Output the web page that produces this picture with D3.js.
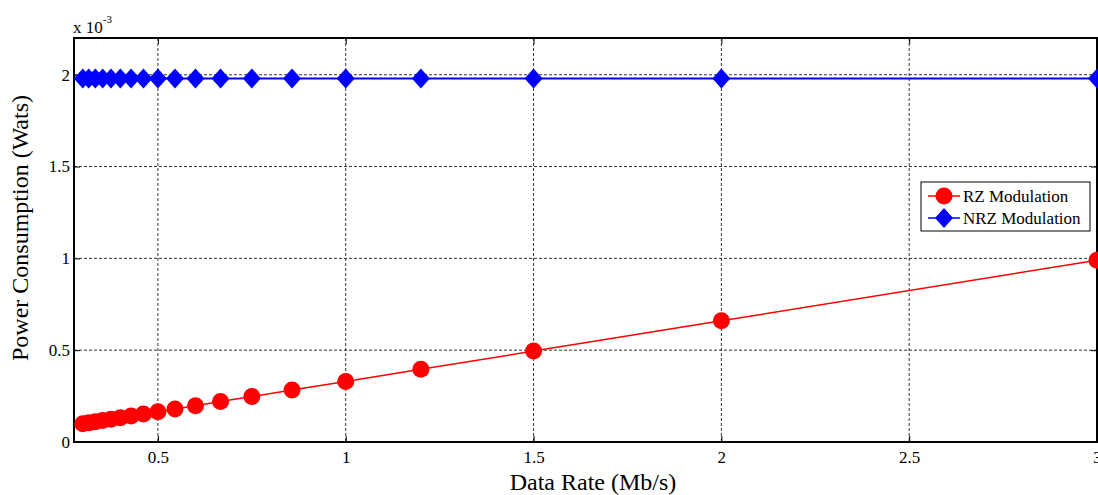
<!DOCTYPE html>
<html>
<head>
<meta charset="utf-8">
<script src="https://cdn.jsdelivr.net/npm/d3@7"></script>
<style>
  html, body { margin: 0; padding: 0; background: #fff; }
  svg { display: block; font-family: "Liberation Serif", "Times New Roman", serif; }
</style>
</head>
<body>
<svg id="chart" width="1098" height="495"></svg>
<script>
// Data rate (Mb/s) for each simulated bit period
const dataRate = [0.3, 0.3158, 0.3333, 0.3529, 0.375, 0.4, 0.4286, 0.4615, 0.5, 0.5455,
                  0.6, 0.6667, 0.75, 0.8571, 1, 1.2, 1.5, 2, 3];
// Power consumption in units of 1e-3 W
const rzPower  = [0.099, 0.1042, 0.11, 0.1165, 0.1238, 0.132, 0.1414, 0.1523, 0.165, 0.18,
                  0.198, 0.22, 0.2475, 0.2829, 0.33, 0.396, 0.495, 0.66, 0.99];
const nrzPower = [1.98, 1.98, 1.98, 1.98, 1.98, 1.98, 1.98, 1.98, 1.98, 1.98,
                  1.98, 1.98, 1.98, 1.98, 1.98, 1.98, 1.98, 1.98, 1.98];
const xTicks = [0.5, 1, 1.5, 2, 2.5, 3];
const yTicks = [0, 0.5, 1, 1.5, 2];
const seriesNames = ["RZ Modulation", "NRZ Modulation"];

const svg = d3.select("#chart");
const plotL = 74, plotR = 1097, plotT = 38, plotB = 442;

const x = d3.scaleLinear().domain([0.2766, 3]).range([plotL, plotR]);
const y = d3.scaleLinear().domain([0, 2.2]).range([plotB, plotT]);

// Grid lines
const grid = svg.append("g").attr("stroke", "#000").attr("stroke-width", 0.8)
  .attr("stroke-dasharray", "3,2");
xTicks.forEach(t => grid.append("line")
  .attr("x1", x(t)).attr("x2", x(t)).attr("y1", plotT).attr("y2", plotB));
yTicks.filter(t => t > 0).forEach(t => grid.append("line")
  .attr("x1", plotL).attr("x2", plotR).attr("y1", y(t)).attr("y2", y(t)));

// Axes with inward ticks
const xAxis = d3.axisBottom(x).tickValues(xTicks).tickSize(-6).tickPadding(9)
  .tickFormat(d3.format("~g"));
const yAxis = d3.axisLeft(y).tickValues(yTicks).tickSize(-6).tickPadding(4)
  .tickFormat(d3.format("~g"));

const gx = svg.append("g").attr("transform", `translate(0,${plotB})`).call(xAxis);
const gy = svg.append("g").attr("transform", `translate(${plotL},0)`).call(yAxis);
const gxTop = svg.append("g").attr("transform", `translate(0,${plotT})`)
  .call(d3.axisTop(x).tickValues(xTicks).tickSize(-6).tickFormat(""));
const gyRight = svg.append("g").attr("transform", `translate(${plotR},0)`)
  .call(d3.axisRight(y).tickValues(yTicks).tickSize(-6).tickFormat(""));

[gx, gy, gxTop, gyRight].forEach(g => {
  g.attr("font-family", null);
  g.select(".domain").remove();
  g.selectAll(".tick line").attr("stroke", "#000").attr("stroke-width", 1);
  g.selectAll("text").attr("fill", "#000").style("font-size", "17px")
    .style("font-family", "'Liberation Serif', serif");
});

// Box
svg.append("rect").attr("x", plotL).attr("y", plotT)
  .attr("width", plotR - plotL).attr("height", plotB - plotT)
  .attr("fill", "none").attr("stroke", "#000").attr("stroke-width", 2);

// Series lines
const rzData = dataRate.map((d, i) => [d, rzPower[i]]);
const nrzData = dataRate.map((d, i) => [d, nrzPower[i]]);
const line = d3.line().x(d => x(d[0])).y(d => y(d[1]));

svg.append("path").datum(rzData).attr("d", line)
  .attr("fill", "none").attr("stroke", "#ff0000").attr("stroke-width", 1.5);
svg.append("path").datum(nrzData).attr("d", line)
  .attr("fill", "none").attr("stroke", "#0000ff").attr("stroke-width", 2);

// Markers
const diamond = "M0,-10L9,0L0,10L-9,0Z";
svg.append("g").selectAll("circle").data(rzData).join("circle")
  .attr("cx", d => x(d[0])).attr("cy", d => y(d[1])).attr("r", 8.5)
  .attr("fill", "#ff0000");
svg.append("g").selectAll("path").data(nrzData).join("path")
  .attr("d", diamond)
  .attr("transform", d => `translate(${x(d[0])},${y(d[1])})`)
  .attr("fill", "#0000ff");

// Exponent label
const ex = svg.append("text").attr("x", plotL - 1).attr("y", 33)
  .style("font-size", "17px").attr("fill", "#000");
ex.append("tspan").text("x 10");
ex.append("tspan").attr("dy", -10).style("font-size", "11px").text("-3");

// Axis titles
svg.append("text").attr("x", 593).attr("y", 490)
  .attr("text-anchor", "middle").style("font-size", "24px").attr("fill", "#000")
  .text("Data Rate (Mb/s)");
svg.append("text").attr("transform", "translate(28,228) rotate(-90)")
  .attr("text-anchor", "middle").style("font-size", "24px").attr("fill", "#000")
  .text("Power Consumption (Wats)");

// Legend
const lg = svg.append("g").attr("transform", "translate(921,182)");
lg.append("rect").attr("width", 169).attr("height", 49)
  .attr("fill", "#fff").attr("stroke", "#000").attr("stroke-width", 1);
const entries = [
  { name: seriesNames[0], color: "#ff0000", shape: "circle" },
  { name: seriesNames[1], color: "#0000ff", shape: "diamond" }
];
entries.forEach((e, i) => {
  const cy = 14 + i * 22;
  lg.append("line").attr("x1", 7).attr("x2", 39).attr("y1", cy).attr("y2", cy)
    .attr("stroke", e.color).attr("stroke-width", 1.5);
  if (e.shape === "circle") {
    lg.append("circle").attr("cx", 23).attr("cy", cy).attr("r", 8.5).attr("fill", e.color);
  } else {
    lg.append("path").attr("d", diamond).attr("transform", `translate(23,${cy})`)
      .attr("fill", e.color);
  }
  lg.append("text").attr("x", 42).attr("y", cy + 5.5).style("font-size", "17px")
    .attr("fill", "#000").text(e.name);
});
</script>
</body>
</html>
